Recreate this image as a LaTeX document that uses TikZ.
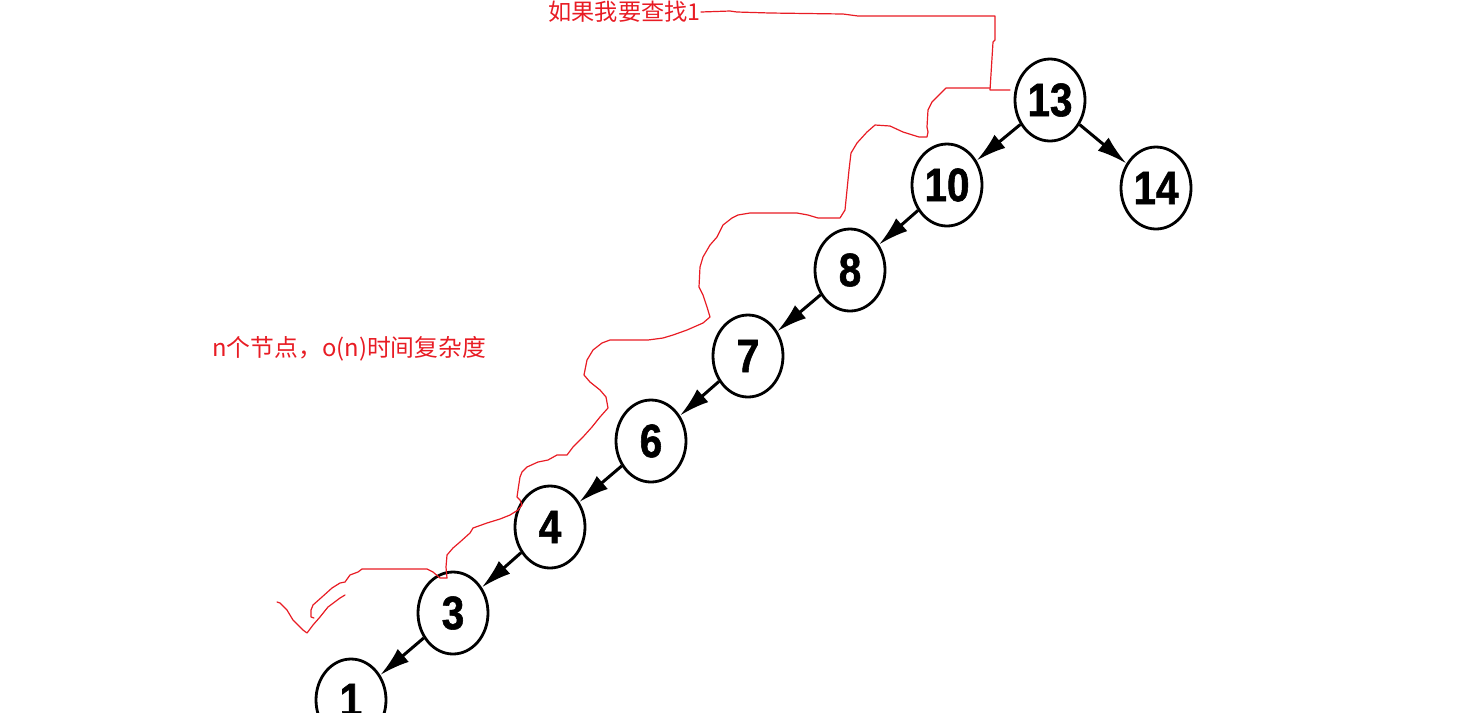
\documentclass[tikz,border=0pt]{standalone}
\usepackage{fontspec}
\usetikzlibrary{shapes.geometric,arrows.meta}
\newfontfamily\cjk{Noto Sans CJK SC}
\newfontfamily\digfont[FakeStretch=0.86,FakeBold=1.2]{Liberation Sans}
\definecolor{ink}{RGB}{232,28,36}
\tikzset{
  bst/.style={ellipse,draw=black,line width=1.4pt,fill=white,minimum width=35pt,minimum height=41pt,inner sep=0pt,
    font=\digfont\bfseries\fontsize{23.5}{23.5}\selectfont},
  arr/.style={line width=1.5pt,-{Latex[length=15pt,width=8.5pt]}},
  pen/.style={draw=ink,line width=0.6pt,line join=round,line cap=round},
  note/.style={text=ink,anchor=west,inner sep=0pt}
}
\begin{document}
\begin{tikzpicture}[x=0.5pt,y=-0.5pt]
\useasboundingbox (0,0) rectangle (1484,725);
\begin{scope}
\clip (0,0) rectangle (1484,712);
\node[bst] (n13) at (1050,100) {13};
\node[bst] (n10) at (947,185) {10};
\node[bst] (n14) at (1156,188) {14};
\node[bst] (n8) at (850,270) {8};
\node[bst] (n7) at (748,356) {7};
\node[bst] (n6) at (651,441) {6};
\node[bst] (n4) at (550,527) {4};
\node[bst] (n3) at (453,613) {3};
\node[bst] (n1) at (351,700) {1};
\draw[arr] (n13) -- (n10);
\draw[arr] (n13) -- (n14);
\draw[arr] (n10) -- (n8);
\draw[arr] (n8) -- (n7);
\draw[arr] (n7) -- (n6);
\draw[arr] (n6) -- (n4);
\draw[arr] (n4) -- (n3);
\draw[arr] (n3) -- (n1);
\end{scope}
\node[note,font=\cjk\fontsize{11.6}{12}\selectfont] (q) at (548,12) {如果我要查找1};
\node[note,font=\cjk\fontsize{11.9}{12}\selectfont] (c) at (212,349) {n个节点，o(n)时间复杂度};
\draw[pen] (q.east) -- (730,11) -- (737,12) -- (770,13) -- (843,14) -- (858,16) -- (900,16) -- (995,16) -- (995,40) -- (993,42) -- (990,90) -- (1010,90);
\draw[pen] (990,88) -- (980,88) -- (946,88) -- (937,97) -- (932,102) -- (928,110) -- (927,127) -- (928,132) -- (927,137) -- (919,137) -- (903,132) -- (890,126) -- (875,125) -- (867,132) -- (857,143) -- (851,153) -- (849,170) -- (847,190) -- (845,210) -- (840,218) -- (818,218) -- (808,215) -- (797,213) -- (750,213) -- (738,215) -- (732,218) -- (723,225) -- (717,237) -- (710,245) -- (703,257) -- (700,267) -- (699,287) -- (703,295) -- (707,307) -- (710,317) -- (703,323) -- (687,330) -- (673,335) -- (663,338) -- (648,340) -- (610,340) -- (602,343) -- (593,350) -- (587,360) -- (584,375) -- (590,382) -- (600,390) -- (606,397) -- (608,408) -- (600,417) -- (592,427) -- (583,437) -- (573,447) -- (567,455) -- (557,455) -- (548,460) -- (538,462) -- (527,467) -- (522,472) -- (520,477) -- (518,490) -- (517,497) -- (520,500) -- (522,505) -- (518,510) -- (510,515) -- (500,519) -- (487,523) -- (473,528) -- (470,533) -- (460,542) -- (453,548) -- (447,555) -- (446,567) -- (447,578) -- (440,578) -- (433,572) -- (427,569) -- (362,569) -- (358,572) -- (350,575) -- (345,582) -- (340,583) -- (332,588) -- (322,597) -- (313,605) -- (311,610) -- (311,617) -- (314,618);
\draw[pen] (345,595) -- (340,598) -- (328,607) -- (320,617) -- (313,625) -- (307,633) -- (303,630) -- (293,620) -- (287,610) -- (280,603) -- (277,602);
\end{tikzpicture}
\end{document}
